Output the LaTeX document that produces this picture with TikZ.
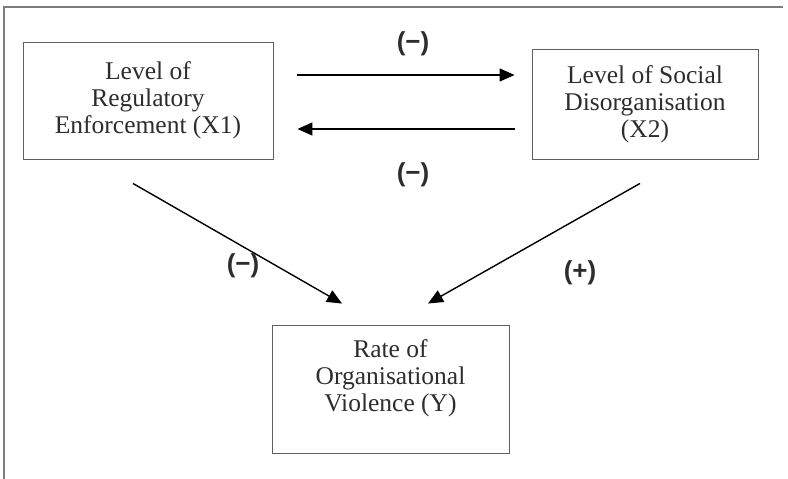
\documentclass[tikz,border=0pt]{standalone}
\usepackage{fontspec}
\setmainfont{Liberation Serif}
\newfontfamily\signfont{Liberation Sans}
\usetikzlibrary{arrows.meta}
\definecolor{boxgray}{RGB}{95,95,95}
\definecolor{framegray}{RGB}{125,125,125}
\definecolor{textgray}{RGB}{45,45,45}
\tikzset{
	varbox/.style={draw=boxgray, line width=.9pt, align=center, text=textgray, font=\fontsize{25.5}{27}\selectfont},
	vartext/.style={align=center, text=textgray, font=\fontsize{25.5}{27}\selectfont},
	sign/.style={text=textgray, font=\signfont\bfseries\fontsize{26}{28}\selectfont}
}
\begin{document}
\begin{tikzpicture}[x=1pt, y=-1pt, every node/.style={rectangle}, text centered, line width=1.4pt, >={Triangle[length=15pt,width=13pt]}]
	\useasboundingbox (0,0) rectangle (788,479);
	\draw[framegray, line width=1.2pt] (4,479) -- (4,7) -- (783,7);
	\node[varbox, minimum width=250pt, minimum height=117pt] (enforce) at (148,100.5) {Level of\\Regulatory\\Enforcement (X1)};
	\node[varbox, minimum width=226pt, minimum height=110pt] (disorg) at (645,104) {Level of Social\\Disorganisation\\(X2)};
	\node[varbox, minimum width=237pt, minimum height=128pt] (violence) at (390.5,389) {};
	\node[vartext] (violenceText) at (390.5,378) {Rate of\\Organisational\\Violence (Y)};
	\draw[->] ([shift={(24,-25.5)}]enforce.east) -- ([shift={(-17,-29)}]disorg.west);
	\node[sign] (signTop) at (413,44) {(−)};
	\draw[->] ([shift={(-17,25)}]disorg.west) -- ([shift={(24,28.5)}]enforce.east);
	\node[sign] (signBottom) at (413,175) {(−)};
	\draw[->] ([shift={(-15,24)}]enforce.south) -- ([shift={(-48.5,-21)}]violence.north);
	\node[sign] (signLeft) at (243,266) {(−)};
	\draw[->] ([shift={(-5,24)}]disorg.south) -- ([shift={(37.5,-21)}]violence.north);
	\node[sign] (signRight) at (580,273) {(+)};
\end{tikzpicture}
\end{document}
